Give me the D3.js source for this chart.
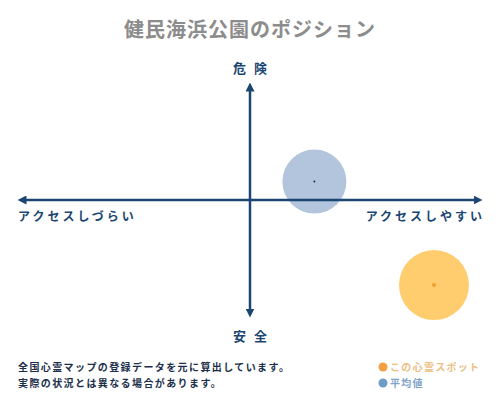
<!DOCTYPE html>
<html>
<head>
<meta charset="utf-8">
<script src="https://cdn.jsdelivr.net/npm/d3@7"></script>
<style>
  body { margin: 0; background: #fff; }
  text { font-family: "Noto Sans CJK JP", "Noto Sans", sans-serif; }
</style>
</head>
<body>
<div id="chart"></div>
<script>
// Données
const title = "健民海浜公園のポジション";
const axisLabels = { top: "危険", bottom: "安全", left: "アクセスしづらい", right: "アクセスしやすい" };
const seriesNames = ["この心霊スポット", "平均値"];
const seriesX = [4.0, 1.4];   // accès
const seriesY = [-3.7, 0.8];  // danger
const seriesR = [35, 32];
const notes = [
  "全国心霊マップの登録データを元に算出しています。",
  "実際の状況とは異なる場合があります。"
];

const width = 500;
const height = 400;
const navy = "#1b4672";

const svg = d3.select("#chart").append("svg")
  .attr("width", width)
  .attr("height", height);

const x = d3.scaleLinear().domain([-5, 5]).range([20, 480]);
const y = d3.scaleLinear().domain([-5, 5]).range([315, 85]);

// Titre
svg.append("text")
  .attr("x", width / 2).attr("y", 37)
  .attr("text-anchor", "middle")
  .style("font-size", "20px").style("font-weight", "bold")
  .style("letter-spacing", "1px")
  .style("fill", "#8c8c8c")
  .text(title);

// Flèches
const defs = svg.append("defs");
defs.append("marker")
  .attr("id", "arrow")
  .attr("viewBox", "0 0 10 10")
  .attr("refX", 5).attr("refY", 5)
  .attr("markerWidth", 3.6).attr("markerHeight", 3.6)
  .attr("orient", "auto-start-reverse")
  .append("path")
  .attr("d", "M0,0 L10,5 L0,10 z")
  .style("fill", navy);

// Cercles
const colors = ["#ffc966", "#9fb7d3"];
const dotColors = ["#f0a030", "#1b3050"];
const order = [1, 0];
order.forEach((i) => {
  svg.append("circle")
    .attr("cx", x(seriesX[i])).attr("cy", y(seriesY[i]))
    .attr("r", seriesR[i])
    .style("fill", colors[i])
    .style("opacity", i === 0 ? 0.95 : 0.8);
});

// Axes
svg.append("line")
  .attr("x1", x(-5) + 2).attr("y1", y(0))
  .attr("x2", x(5) - 2).attr("y2", y(0))
  .attr("marker-start", "url(#arrow)")
  .attr("marker-end", "url(#arrow)")
  .style("stroke", navy).style("stroke-width", 2.5);

svg.append("line")
  .attr("x1", x(0)).attr("y1", y(5) + 2)
  .attr("x2", x(0)).attr("y2", y(-5) - 2)
  .attr("marker-start", "url(#arrow)")
  .attr("marker-end", "url(#arrow)")
  .style("stroke", navy).style("stroke-width", 2.5);

// Points centraux
order.forEach((i) => {
  svg.append("circle")
    .attr("cx", x(seriesX[i])).attr("cy", y(seriesY[i]))
    .attr("r", i === 0 ? 2 : 1)
    .style("fill", dotColors[i]);
});

// Libellés des axes
const lab = (t, px, py, anchor, size, spacing) =>
  svg.append("text")
    .attr("x", px).attr("y", py)
    .attr("text-anchor", anchor)
    .style("font-size", size + "px").style("font-weight", "bold")
    .style("letter-spacing", spacing + "px")
    .style("fill", navy)
    .text(t);

lab(axisLabels.top, 254, 73, "middle", 13, 8);
lab(axisLabels.bottom, 254, 341, "middle", 13, 8);
lab(axisLabels.left, 18, 221, "start", 12, 3);
lab(axisLabels.right, 485, 221, "end", 12, 3);

// Notes
notes.forEach((n, i) => {
  svg.append("text")
    .attr("x", 18).attr("y", 371 + i * 16)
    .style("font-size", "10px").style("font-weight", "bold")
    .style("letter-spacing", "1.4px")
    .style("fill", "#1b2f4a")
    .text(n);
});

// Légende
const legendDot = ["#f0a040", "#6f9cc4"];
const legendText = ["#ebc084", "#7ea4c8"];
seriesNames.forEach((s, i) => {
  svg.append("circle")
    .attr("cx", 383).attr("cy", 367 + i * 16)
    .attr("r", 4.5)
    .style("fill", legendDot[i]);
  svg.append("text")
    .attr("x", 390).attr("y", 371 + i * 16)
    .style("font-size", "10px").style("font-weight", "bold")
    .style("letter-spacing", "1.3px")
    .style("fill", legendText[i])
    .text(s);
});
</script>
</body>
</html>
